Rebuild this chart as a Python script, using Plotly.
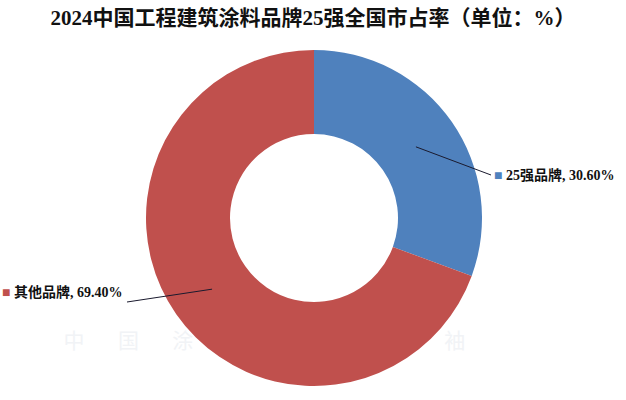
import math
import plotly.graph_objects as go

title = "2024中国工程建筑涂料品牌25强全国市占率（单位：%）"
categories = ["25强品牌", "其他品牌"]
shares = [30.60, 69.40]
colors = ["#4F81BD", "#C0504D"]
watermark_small = "中国涂料风向领袖"

W, H = 626, 400
cx, cy, R = 314, 218, 168
FONT = "Liberation Serif, Times New Roman, Noto Sans CJK SC, serif"

def px(x):
    return x / W

def py(y):
    return 1 - y / H

fig = go.Figure()

# faint watermark row (drawn below the pie)
fig.add_trace(go.Scatter(
    x=[74 + 54.4 * i for i in range(len(watermark_small))],
    y=[343] * len(watermark_small), mode="text", text=list(watermark_small),
    textfont=dict(size=21, color="#f1f3f6", family="Noto Sans CJK SC"),
    hoverinfo="skip", showlegend=False))

fig.add_trace(go.Pie(
    labels=categories, values=shares, hole=0.5, sort=False,
    direction="clockwise", rotation=0,
    marker=dict(colors=colors, line=dict(width=0)),
    textinfo="none", hoverinfo="label+percent", showlegend=False,
    domain=dict(x=[px(cx - R), px(cx + R)], y=[py(cy + R), py(cy - R)]),
))

# leader lines and labels
label_ends = [(491, 175, "left"), (127, 302, "right")]
cum = 0
for cat, val, col, (ex, ey, side) in zip(categories, shares, colors, label_ends):
    mid = cum + val / 2
    cum += val
    ang = math.radians(90 - mid / 100 * 360)
    sx = cx + 0.74 * R * math.cos(ang)
    sy = cy - 0.74 * R * math.sin(ang)
    fig.add_shape(type="line", xref="paper", yref="paper",
                  x0=px(sx), y0=py(sy), x1=px(ex), y1=py(ey),
                  line=dict(color="#1a1a2e", width=1))
    txt = f'<span style="color:{col}">■</span> <b>{cat}, {val:.2f}%</b>'
    if side == "left":
        fig.add_annotation(x=px(ex + 1), y=py(ey), xref="paper", yref="paper",
                           text=txt, showarrow=False, xanchor="left",
                           font=dict(size=14, color="#111", family=FONT))
    else:
        fig.add_annotation(x=px(ex - 3), y=py(ey), xref="paper", yref="paper",
                           text=txt, showarrow=False, xanchor="right",
                           font=dict(size=14, color="#111", family=FONT))

fig.update_layout(
    width=W, height=H,
    margin=dict(l=0, r=0, t=0, b=0),
    paper_bgcolor="white", plot_bgcolor="white",
    xaxis=dict(range=[0, W], visible=False, fixedrange=True),
    yaxis=dict(range=[H, 0], visible=False, fixedrange=True),
    title=dict(text=f"<b>{title}</b>", x=0.5, xanchor="center",
               y=py(18), yanchor="middle", yref="paper",
               font=dict(size=21, color="#111", family=FONT)),
)

fig.write_html("out.html", config={"displayModeBar": False},
               post_script="document.body.style.margin='0';")
